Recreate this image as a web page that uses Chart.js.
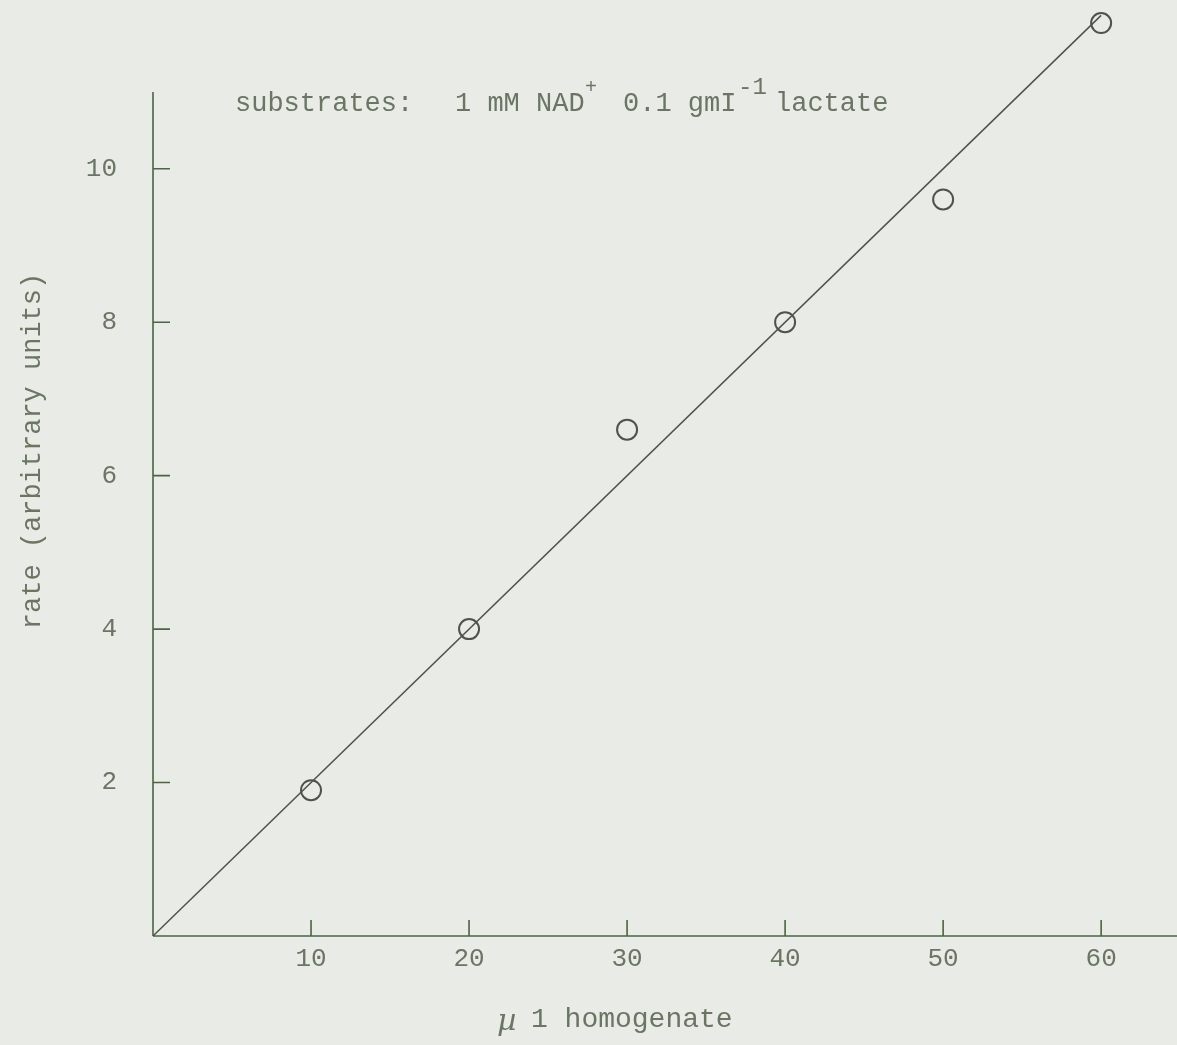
<!DOCTYPE html>
<html>
<head>
<meta charset="utf-8">
<script src="https://cdn.jsdelivr.net/npm/chart.js@4.4.1/dist/chart.umd.min.js"></script>
<style>
  html, body { margin: 0; padding: 0; background: #e9ebe6; }
  #wrap { width: 1177px; height: 1045px; position: relative; }
</style>
</head>
<body>
<div id="wrap"><canvas id="c"></canvas></div>
<script>
// ---- data ----
const homogenateUl = [10, 20, 30, 40, 50, 60];
const rateValues   = [1.9, 4.0, 6.6, 8.0, 9.6, 11.9];
const fitLineX = [0, 60];
const fitLineY = [0, 12];
const xTickValues = [10, 20, 30, 40, 50, 60];
const yTickValues = [2, 4, 6, 8, 10];
const yAxisTop = 11;
const xTitle = "1 homogenate";
const yTitle = "rate (arbitrary units)";
const noteParts = ["substrates:", "1 mM NAD", "+", "0.1 gmI", "-1", "lactate"];

const AXIS = '#4c6444';
const TEXT = '#6a7564';
const MARK = '#4d534a';
const MONO = '"Liberation Mono", "DejaVu Sans Mono", monospace';

const pointsData = homogenateUl.map((x, i) => ({ x: x, y: rateValues[i] }));
const lineData = fitLineX.map((x, i) => ({ x: x, y: fitLineY[i] }));

const axesPlugin = {
  id: 'axesPlugin',
  beforeDatasetsDraw(chart) {
    const ctx = chart.ctx;
    const xs = chart.scales.x, ys = chart.scales.y;
    const x0 = xs.getPixelForValue(0), y0 = ys.getPixelForValue(0);
    ctx.save();
    ctx.strokeStyle = AXIS;
    ctx.lineWidth = 1.6;
    ctx.beginPath();
    ctx.moveTo(x0, y0);
    ctx.lineTo(x0, ys.getPixelForValue(yAxisTop));
    ctx.moveTo(x0, y0);
    ctx.lineTo(xs.right, y0);
    xTickValues.forEach(v => {
      const px = xs.getPixelForValue(v);
      ctx.moveTo(px, y0);
      ctx.lineTo(px, y0 - 16);
    });
    yTickValues.forEach(v => {
      const py = ys.getPixelForValue(v);
      ctx.moveTo(x0, py);
      ctx.lineTo(x0 + 17, py);
    });
    ctx.stroke();
    ctx.restore();
  },
  afterDraw(chart) {
    const ctx = chart.ctx;
    ctx.save();
    ctx.fillStyle = TEXT;
    ctx.textBaseline = 'alphabetic';
    ctx.textAlign = 'left';
    ctx.font = '27px ' + MONO;
    ctx.fillText(noteParts[0], 235, 111);
    ctx.fillText(noteParts[1], 455, 111);
    ctx.fillText(noteParts[3], 623, 111);
    ctx.fillText(noteParts[5], 775, 111);
    ctx.font = '20px ' + MONO;
    ctx.fillText(noteParts[2], 585, 93);
    ctx.font = '24px ' + MONO;
    ctx.fillText(noteParts[4], 738, 94);
    ctx.font = '28px ' + MONO;
    ctx.fillText(xTitle, 531, 1027);
    ctx.font = 'italic 30px "DejaVu Serif", serif';
    ctx.fillText('\u00b5', 497, 1030);
    ctx.translate(33, 451);
    ctx.rotate(-Math.PI / 2);
    ctx.textAlign = 'center';
    ctx.textBaseline = 'middle';
    ctx.font = '27px ' + MONO;
    ctx.fillText(yTitle, 0, 0);
    ctx.restore();
  }
};

new Chart(document.getElementById('c'), {
  type: 'scatter',
  data: {
    datasets: [
      {
        type: 'line',
        data: lineData,
        borderColor: MARK,
        borderWidth: 1.5,
        pointRadius: 0,
        fill: false,
        tension: 0,
        clip: false
      },
      {
        type: 'scatter',
        data: pointsData,
        pointStyle: 'circle',
        pointRadius: 10,
        pointHoverRadius: 10,
        backgroundColor: 'rgba(0,0,0,0)',
        borderColor: MARK,
        pointBorderWidth: 2,
        borderWidth: 2,
        clip: false
      }
    ]
  },
  options: {
    responsive: true,
    maintainAspectRatio: false,
    animation: false,
    events: [],
    layout: { padding: 0, autoPadding: false },
    plugins: { legend: { display: false }, tooltip: { enabled: false } },
    scales: {
      x: {
        type: 'linear',
        min: 0,
        max: 64.8,
        grid: { display: false },
        border: { display: false },
        afterBuildTicks: s => { s.ticks = xTickValues.map(v => ({ value: v })); },
        afterFit: s => { s.height = 109; s.paddingLeft = 0; s.paddingRight = 0; },
        ticks: {
          color: TEXT,
          font: { family: MONO, size: 26 },
          padding: 0,
          maxRotation: 0,
          autoSkip: false,
          callback: v => String(v)
        }
      },
      y: {
        type: 'linear',
        min: 0,
        max: 12.2,
        grid: { display: false },
        border: { display: false },
        afterBuildTicks: s => { s.ticks = yTickValues.map(v => ({ value: v })); },
        afterFit: s => { s.width = 153; s.paddingTop = 0; s.paddingBottom = 0; },
        ticks: {
          color: TEXT,
          font: { family: MONO, size: 26 },
          padding: 28,
          autoSkip: false,
          callback: v => String(v)
        }
      }
    }
  },
  plugins: [axesPlugin]
});
</script>
</body>
</html>
